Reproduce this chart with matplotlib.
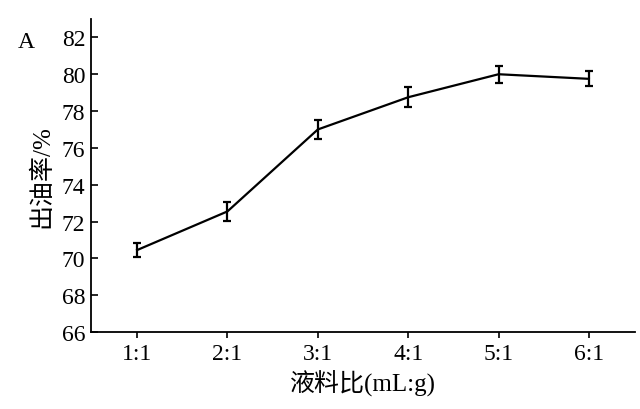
import matplotlib
matplotlib.use("Agg")
import matplotlib.pyplot as plt

ratios = ["1:1", "2:1", "3:1", "4:1", "5:1", "6:1"]
oil_yield = [70.45, 72.55, 77.0, 78.75, 80.0, 79.75]
yield_err = [0.4, 0.5, 0.5, 0.55, 0.45, 0.4]

plt.rcParams['font.family'] = ['Liberation Serif', 'Noto Sans CJK SC']

fig = plt.figure(figsize=(6.4, 4.1), dpi=100)
ax = fig.add_axes([91 / 640, 1 - 333 / 410, 544 / 640, 313 / 410])

x = list(range(1, len(ratios) + 1))
ax.errorbar(x, oil_yield, yerr=yield_err, color='black', linewidth=1.6,
            elinewidth=1.6, capsize=3, capthick=1.6)

ax.set_xlim(0.49, 6.51)
ax.set_ylim(66, 83)
ax.set_yticks(range(66, 83, 2))
ax.set_xticks(x)
ax.set_xticklabels(ratios)
ax.tick_params(axis='y', direction='in', labelsize=17, width=1.2, length=5, pad=4)
ax.tick_params(axis='x', direction='out', labelsize=17, width=1.2, length=4, pad=4)
ax.spines['top'].set_visible(False)
ax.spines['right'].set_visible(False)
ax.spines['left'].set_linewidth(1.3)
ax.spines['bottom'].set_linewidth(1.3)

ax.set_xlabel('液料比(mL:g)', fontsize=18, labelpad=4)
ax.set_ylabel('出油率/%', fontsize=18, labelpad=6)
fig.text(18 / 640, 1 - 42 / 410, 'A', fontsize=17, va='center')

fig.savefig('out.png', dpi=100)
